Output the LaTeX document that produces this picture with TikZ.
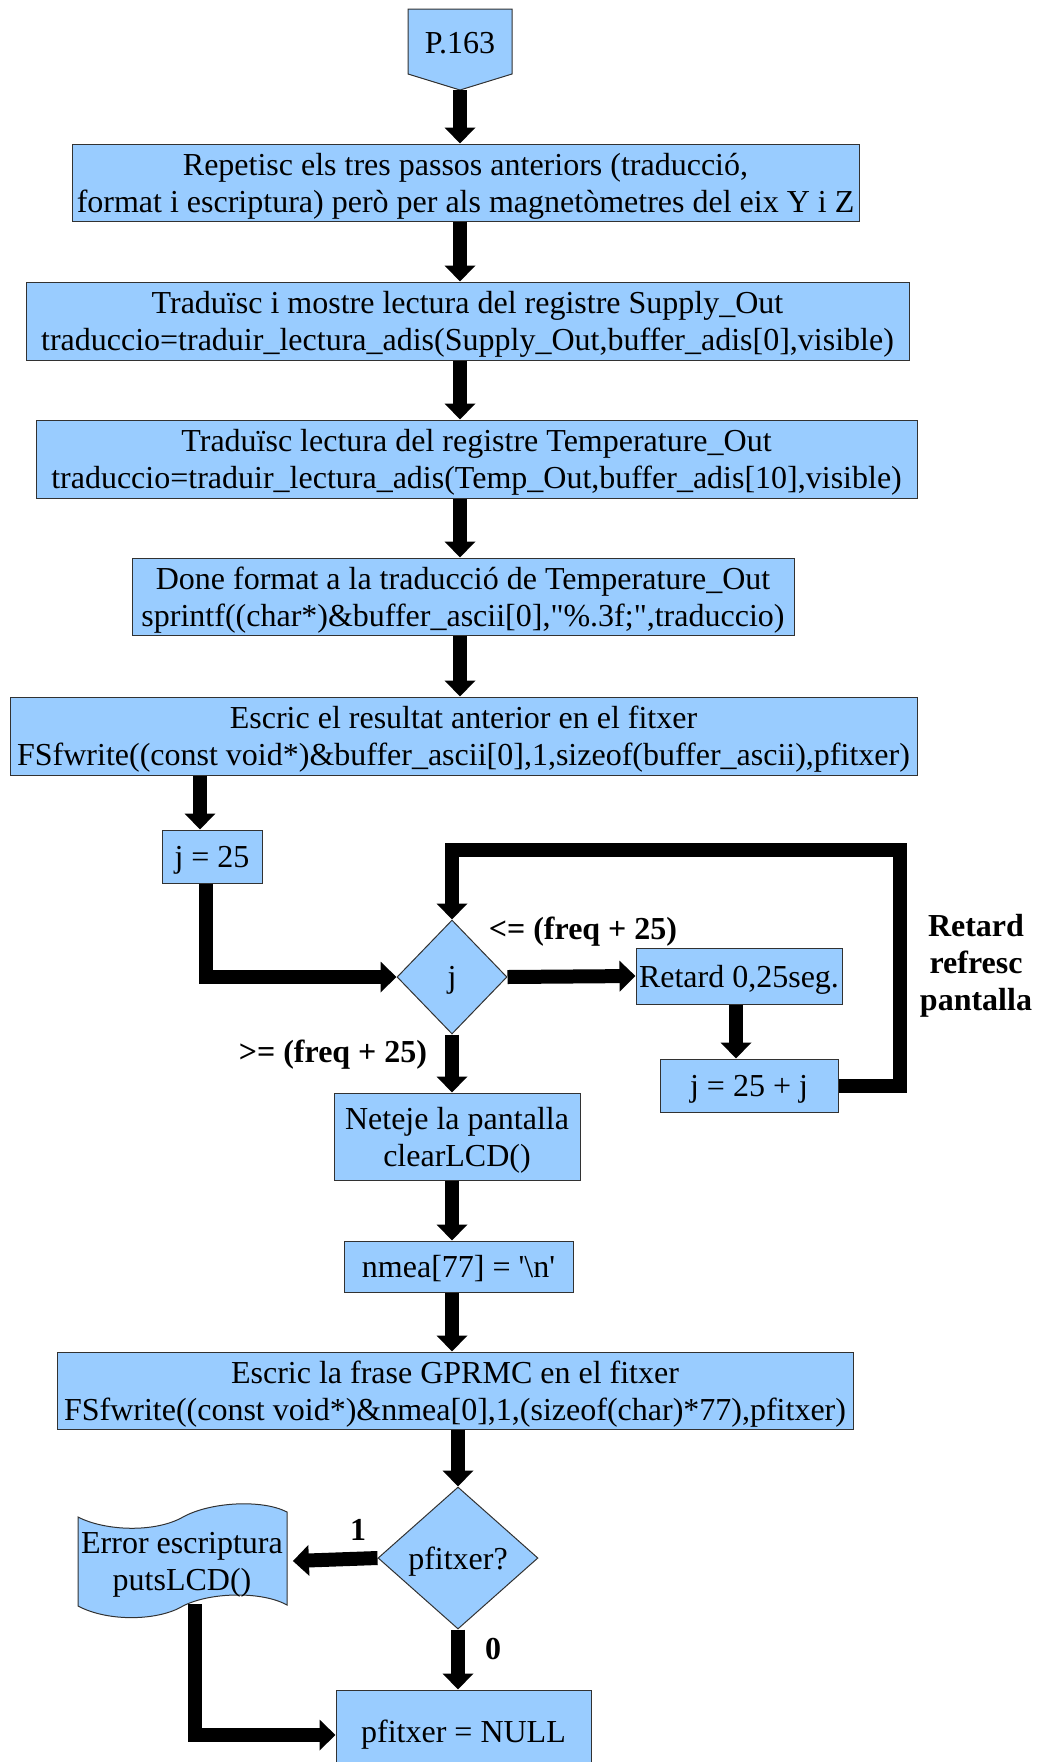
\documentclass[tikz,border=0pt]{standalone}
\usepackage{fontspec}
\setmainfont{Liberation Serif}
\usetikzlibrary{shapes.geometric,arrows.meta}

\definecolor{blaucaixa}{RGB}{153,204,255}
\definecolor{vora}{RGB}{50,50,50}

\tikzset{
  pas/.style={draw=vora, fill=blaucaixa, line width=0.5pt, align=center, inner sep=0pt, text depth=0pt},
  decisio/.style={pas, diamond, aspect=1},
  flux/.style={line width=7pt, -{Triangle[width=15pt,length=8pt]}, line join=miter},
  etiq/.style={font=\fontsize{16}{18.5}\selectfont\bfseries, align=center},
}

\begin{document}
\begin{tikzpicture}[x=0.5pt, y=-0.5pt, font=\fontsize{16}{18.5}\selectfont]
  \useasboundingbox (0,0) rectangle (1041,1762);

  % connector d'inici
  \draw[pas] (408,9) -- (512,9) -- (512,74) -- (460,90) -- (408,74) -- cycle;
  \node (p163) at (460,43) {P.163};
  \coordinate (p163tip) at (460,90);

  % passos de la columna principal
  \node[pas, minimum width=393.5pt, minimum height=38.5pt] (b1) at (465.5,182.5)
    {Repetisc els tres passos anteriors (traducció,\\ format i escriptura) però per als magnetòmetres del eix Y i Z};
  \node[pas, minimum width=441.5pt, minimum height=39pt] (b2) at (467.5,321)
    {Traduïsc i mostre lectura del registre Supply\_Out\\ traduccio=traduir\_lectura\_adis(Supply\_Out,buffer\_adis[0],visible)};
  \node[pas, minimum width=440.5pt, minimum height=39pt] (b3) at (476.5,459)
    {Traduïsc lectura del registre Temperature\_Out\\ traduccio=traduir\_lectura\_adis(Temp\_Out,buffer\_adis[10],visible)};
  \node[pas, minimum width=331pt, minimum height=38.5pt] (b4) at (463,596.5)
    {Done format a la traducció de Temperature\_Out\\ sprintf((char*)\&buffer\_ascii[0],\textquotedbl\%.3f;\textquotedbl,traduccio)};
  \node[pas, minimum width=453.5pt, minimum height=39pt] (b5) at (463.5,736)
    {Escric el resultat anterior en el fitxer\\ FSfwrite((const void*)\&buffer\_ascii[0],1,sizeof(buffer\_ascii),pfitxer)};

  % bucle de refresc
  \node[pas, minimum width=50pt, minimum height=26.5pt] (j25) at (212,856.5) {j = 25};
  \node[decisio, minimum width=55pt, minimum height=57pt] (dj) at (452,977) {j};
  \node[pas, minimum width=103pt, minimum height=28pt] (ret) at (739,976) {Retard 0,25seg.};
  \node[pas, minimum width=89pt, minimum height=26.5pt] (jj) at (749,1085.5) {j = 25 + j};
  \coordinate (loopR) at (900,850);

  \node[etiq] at (583,932) {<= (freq + 25)};
  \node[etiq] at (333,1055) {>= (freq + 25)};
  \node[etiq] at (976,966) {Retard\\ refresc\\ pantalla};

  % final
  \node[pas, minimum width=123pt, minimum height=43.5pt] (clr) at (457,1136.5) {Neteje la pantalla\\ clearLCD()};
  \node[pas, minimum width=114.5pt, minimum height=25.5pt] (nmea) at (458.5,1266.5) {nmea[77] = \textquotesingle\textbackslash n\textquotesingle};
  \node[pas, minimum width=398pt, minimum height=38.5pt] (gprmc) at (455,1390.5)
    {Escric la frase GPRMC en el fitxer\\ FSfwrite((const void*)\&nmea[0],1,(sizeof(char)*77),pfitxer)};
  \node[decisio, aspect=1.13, minimum width=80pt, minimum height=71pt] (dp) at (458,1558) {pfitxer?};

  \draw[pas] (78,1517) .. controls (105,1531) and (155,1533) .. (183,1517)
    .. controls (210,1502) and (262,1499) .. (287,1512) -- (287,1605)
    .. controls (262,1591) and (210,1592) .. (183,1606)
    .. controls (158,1621) and (108,1622) .. (78,1606) -- cycle;
  \node[align=center, minimum width=104.5pt, minimum height=43pt, inner sep=0pt, text depth=0pt] (err) at (182,1561)
    {Error escriptura\\ putsLCD()};
  \node[pas, minimum width=127.5pt, minimum height=45pt, text depth=3.5pt] (null) at (463.5,1735) {pfitxer = NULL};

  \node[etiq] at (358,1530) {1};
  \node[etiq] at (493,1649) {0};

  % fletxes
  \draw[flux] (p163tip) -- (b1.north -| p163tip);
  \foreach \a/\b in {b1/b2,b2/b3,b3/b4,b4/b5}
    \draw[flux] (\a.south -| p163tip) -- (\b.north -| p163tip);
  \draw[flux] ([xshift=-6pt]j25.north |- b5.south) -- ([xshift=-6pt]j25.north);
  \draw[flux] ([xshift=-3pt]j25.south) |- (dj.west);
  \draw[flux] (dj.east) -- (ret.west);
  \draw[flux] ([xshift=-1.5pt]ret.south) -- ([xshift=-1.5pt]ret.south |- jj.north);
  \draw[flux] (jj.east) -| (loopR) -| (dj.north);
  \draw[flux] (dj.south) -- (clr.north -| dj.south);
  \draw[flux] (clr.south -| dj.south) -- (nmea.north -| dj.south);
  \draw[flux] (nmea.south -| dj.south) -- (gprmc.north -| dj.south);
  \draw[flux] (gprmc.south -| dp.north) -- (dp.north);
  \draw[flux] (dp.west) -- ([xshift=3pt]err.east);
  \draw[flux] (dp.south) -- (null.north -| dp.south);
  \draw[flux] ([xshift=6.5pt]err.south) |- (null.west);
\end{tikzpicture}
\end{document}
